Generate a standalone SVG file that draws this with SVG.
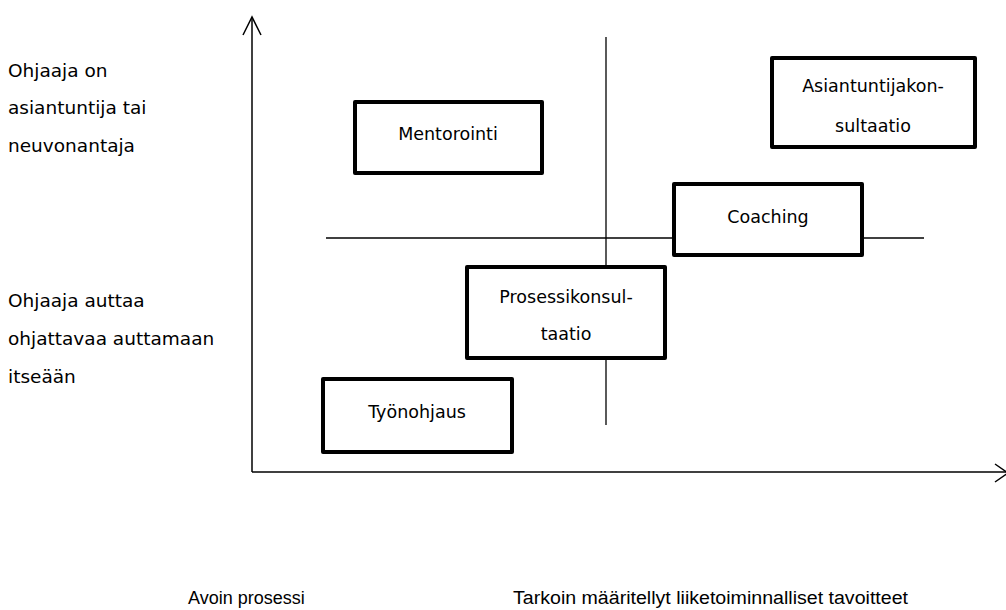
<svg xmlns="http://www.w3.org/2000/svg" width="1006" height="610" viewBox="0 0 1006 610">
<style>
.box{fill:#fff;stroke:#000;stroke-width:4;stroke-linejoin:round}
.bt{font-family:"DejaVu Sans",Verdana,sans-serif;font-size:17.5px;fill:#000;text-anchor:middle}
.lt{font-family:"DejaVu Sans",Verdana,sans-serif;font-size:18.5px;fill:#000}
.bot{font-family:"Liberation Sans",Arial,sans-serif;font-size:18px;fill:#000}
.ax{stroke:#000;stroke-width:1.5;fill:none}
.q{stroke:#000;stroke-width:1.3;fill:none}
</style>
<rect width="1006" height="610" fill="#fff"/>
<g id="connectors">
<line class="ax" x1="252" y1="17" x2="252" y2="472"/>
<polyline class="ax" points="243,35 252,17 261,35"/>
<line class="ax" x1="252" y1="472" x2="1006" y2="472"/>
<polyline class="ax" points="995,464 1008,473 995,482"/>
<line class="q" x1="606" y1="37" x2="606" y2="425"/>
<line class="q" x1="326" y1="238" x2="924" y2="238"/>
</g>
<g id="mentorointi">
<rect class="box" x="355" y="102" width="187" height="71"/>
<text class="bt" x="448" y="140">Mentorointi</text>
</g>
<g id="asiantuntijakonsultaatio">
<rect class="box" x="772" y="58" width="203" height="89"/>
<text class="bt" x="873" y="92">Asiantuntijakon-</text>
<text class="bt" x="873" y="132">sultaatio</text>
</g>
<g id="coaching">
<rect class="box" x="674" y="184" width="188" height="71"/>
<text class="bt" x="768" y="223">Coaching</text>
</g>
<g id="prosessikonsultaatio">
<rect class="box" x="467" y="267" width="198" height="91"/>
<text class="bt" x="566" y="303">Prosessikonsul-</text>
<text class="bt" x="566" y="340">taatio</text>
</g>
<g id="tyonohjaus">
<rect class="box" x="323" y="379" width="189" height="73"/>
<text class="bt" x="417" y="418">Työnohjaus</text>
</g>
<g id="left-labels">
<text class="lt" x="8" y="77">Ohjaaja on</text>
<text class="lt" x="8" y="114">asiantuntija tai</text>
<text class="lt" x="8" y="152">neuvonantaja</text>
<text class="lt" x="8" y="307">Ohjaaja auttaa</text>
<text class="lt" x="8" y="345">ohjattavaa auttamaan</text>
<text class="lt" x="8" y="383">itseään</text>
</g>
<g id="bottom-labels">
<text class="bot" x="188" y="604">Avoin prosessi</text>
<text class="bot" x="513" y="604" textLength="395" lengthAdjust="spacingAndGlyphs">Tarkoin määritellyt liiketoiminnalliset tavoitteet</text>
</g>
</svg>
